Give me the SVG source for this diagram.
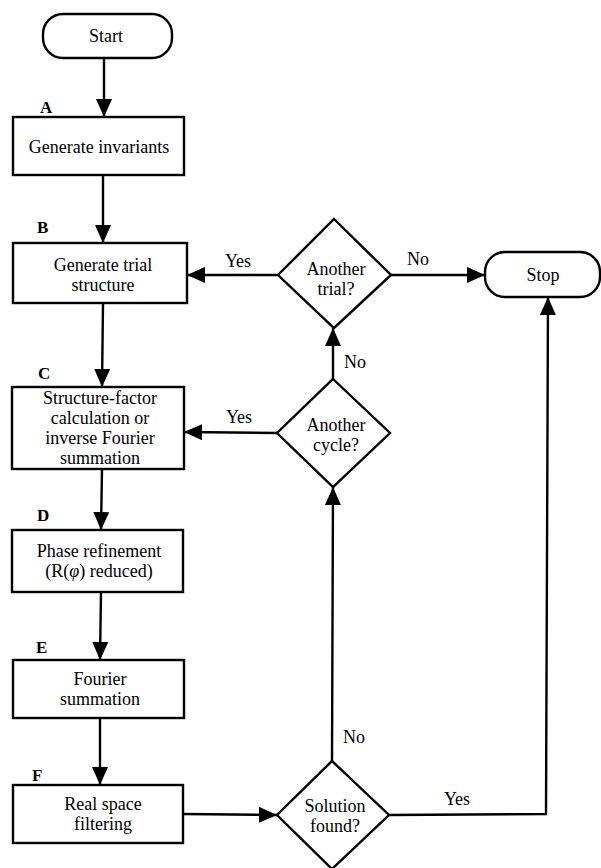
<svg xmlns="http://www.w3.org/2000/svg" width="601" height="868" viewBox="0 0 601 868">
<style>
.s{fill:#fff;stroke:#000;stroke-width:2.4}
.t{font-family:"Liberation Serif","Times New Roman",serif;font-size:18px;fill:#000;text-anchor:middle}
.l{font-family:"Liberation Serif","Times New Roman",serif;font-size:17px;font-weight:bold;fill:#000}
.c{fill:none;stroke:#000;stroke-width:2.4}
</style>
<defs>
<marker id="ah" markerUnits="userSpaceOnUse" markerWidth="20" markerHeight="18" refX="18" refY="8" orient="auto">
<path d="M0,0 L18,8 L0,16 z" fill="#000"/>
</marker>
</defs>
<rect width="601" height="868" fill="#fff"/>
<g id="connectors">
<path class="c" d="M104,58 L104,117" marker-end="url(#ah)"/>
<path class="c" d="M103,175 L103,243" marker-end="url(#ah)"/>
<path class="c" d="M103,303 L102,387" marker-end="url(#ah)"/>
<path class="c" d="M102,469 L101,530" marker-end="url(#ah)"/>
<path class="c" d="M101,592 L100,660" marker-end="url(#ah)"/>
<path class="c" d="M100,718 L100,785" marker-end="url(#ah)"/>
<path class="c" d="M183,814 L277,815" marker-end="url(#ah)"/>
<path class="c" d="M332,761 L333,487" marker-end="url(#ah)"/>
<path class="c" d="M389,815 L546,814 L548,297" marker-end="url(#ah)"/>
<path class="c" d="M333,379 L333,328" marker-end="url(#ah)"/>
<path class="c" d="M277,433 L184,432" marker-end="url(#ah)"/>
<path class="c" d="M278,275 L187,275" marker-end="url(#ah)"/>
<path class="c" d="M391,275 L485,275" marker-end="url(#ah)"/>
<text class="t" x="238" y="267">Yes</text>
<text class="t" x="418" y="265">No</text>
<text class="t" x="355" y="368">No</text>
<text class="t" x="239" y="423">Yes</text>
<text class="t" x="354" y="743">No</text>
<text class="t" x="457" y="805">Yes</text>
</g>
<g id="start">
<rect class="s" x="43" y="14" width="129" height="44" rx="20"/>
<text class="t" x="106" y="42">Start</text>
</g>
<g id="A">
<rect class="s" x="13" y="117" width="171" height="58"/>
<text class="l" x="40" y="113">A</text>
<text class="t" x="99" y="153">Generate invariants</text>
</g>
<g id="B">
<rect class="s" x="13" y="243" width="174" height="60"/>
<text class="l" x="37" y="233">B</text>
<text class="t" x="103" y="271">Generate trial</text>
<text class="t" x="103" y="291">structure</text>
</g>
<g id="C">
<rect class="s" x="12" y="387" width="172" height="82"/>
<text class="l" x="38" y="379">C</text>
<text class="t" x="100" y="404">Structure-factor</text>
<text class="t" x="100" y="424">calculation or</text>
<text class="t" x="100" y="444">inverse Fourier</text>
<text class="t" x="100" y="464">summation</text>
</g>
<g id="D">
<rect class="s" x="12" y="530" width="171" height="62"/>
<text class="l" x="37" y="521">D</text>
<text class="t" x="99" y="557">Phase refinement</text>
<text class="t" x="99" y="577">(R(<tspan font-style="italic">φ</tspan>) reduced)</text>
</g>
<g id="E">
<rect class="s" x="13" y="660" width="171" height="58"/>
<text class="l" x="36" y="653">E</text>
<text class="t" x="100" y="685">Fourier</text>
<text class="t" x="100" y="705">summation</text>
</g>
<g id="F">
<rect class="s" x="13" y="785" width="170" height="58"/>
<text class="l" x="32" y="781">F</text>
<text class="t" x="103" y="810">Real space</text>
<text class="t" x="103" y="830">filtering</text>
</g>
<g id="trial">
<polygon class="s" points="334,219 391,275 334,328 278,275"/>
<text class="t" x="336" y="275">Another</text>
<text class="t" x="336" y="295">trial?</text>
</g>
<g id="cycle">
<polygon class="s" points="333,379 390,433 333,487 277,433"/>
<text class="t" x="336" y="431">Another</text>
<text class="t" x="336" y="451">cycle?</text>
</g>
<g id="solution">
<polygon class="s" points="332,761 389,815 332,869 277,815"/>
<text class="t" x="335" y="812">Solution</text>
<text class="t" x="335" y="832">found?</text>
</g>
<g id="stop">
<rect class="s" x="485" y="252" width="115" height="45" rx="20"/>
<text class="t" x="543" y="281">Stop</text>
</g>
</svg>
